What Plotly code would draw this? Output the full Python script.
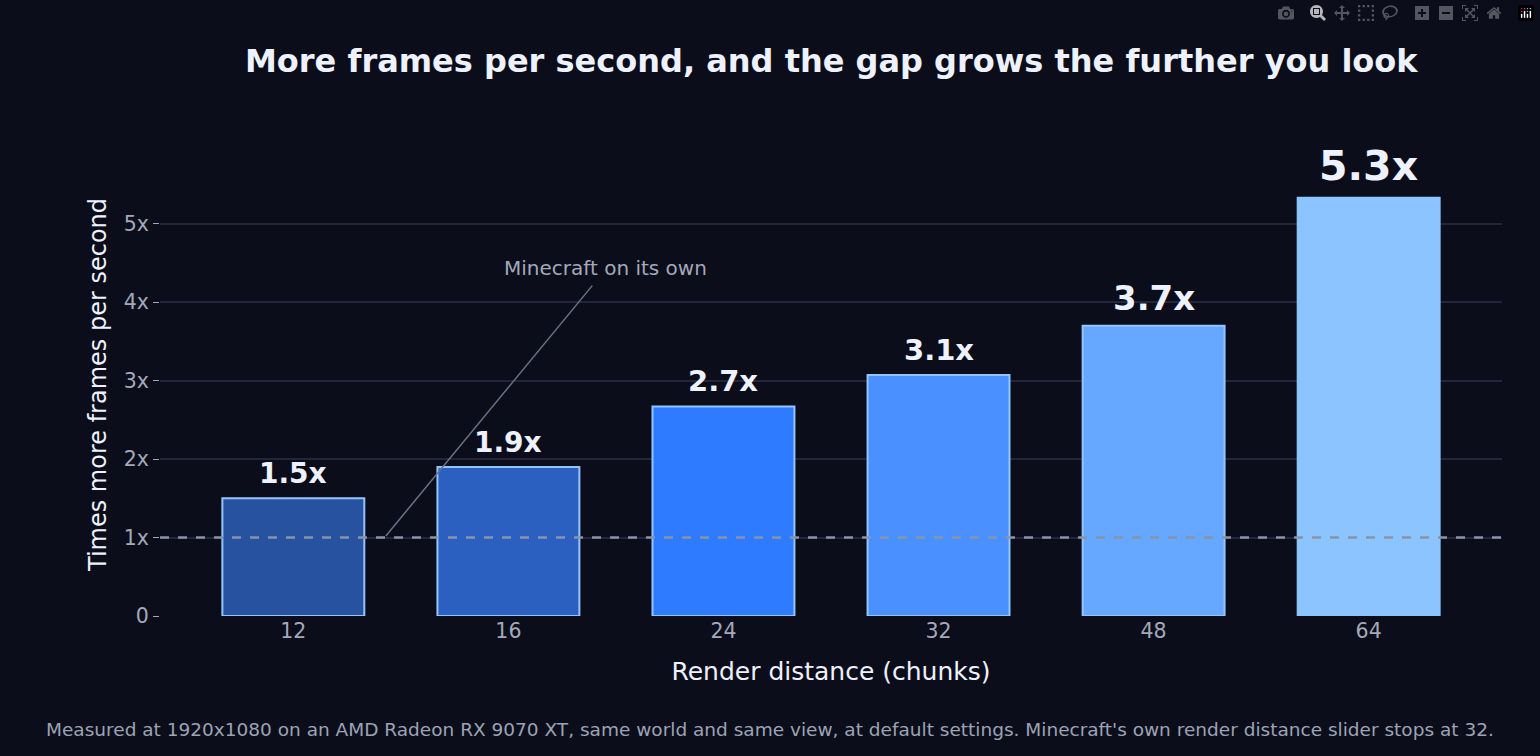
import plotly.graph_objects as go

distances = ['12', '16', '24', '32', '48', '64']
speedup = [1.5, 1.9, 2.67, 3.07, 3.7, 5.33]
labels = ['1.5x', '1.9x', '2.7x', '3.1x', '3.7x', '5.3x']
bar_colors = ['#2752a0', '#2b60c0', '#2e7bff', '#4a90ff', '#66a8ff', '#8cc4ff']
outline_colors = ['#93c5fd'] * 5 + ['#8cc4ff']
label_sizes = [28, 28, 29, 29, 34, 41]
y_ticks = [0, 1, 2, 3, 4, 5]
y_ticktext = ['0', '1x', '2x', '3x', '4x', '5x']

BG = '#0b0e1a'
FONT = 'DejaVu Sans'
xs = list(range(len(distances)))

fig = go.Figure()
fig.add_trace(go.Bar(
    x=xs, y=speedup, width=0.66,
    marker=dict(color=bar_colors, line=dict(color=outline_colors, width=2)),
    hoverinfo='skip', showlegend=False,
))

# baseline: plain Minecraft
fig.add_shape(type='line', xref='paper', x0=0, x1=1, y0=1, y1=1,
              line=dict(color='#8a93a8', width=2.5, dash='dash'))

# value labels above bars
for x, v, t, s in zip(xs, speedup, labels, label_sizes):
    fig.add_annotation(x=x, y=v, text=f'<b>{t}</b>', showarrow=False,
                       yanchor='bottom', yshift=6,
                       font=dict(size=s, color='#eef2ff', family=FONT))

# callout for the baseline
fig.add_shape(type='line', x0=0.43, y0=1.02, x1=1.39, y1=4.21,
              line=dict(color='#6b7285', width=1.5))
fig.add_annotation(x=1.45, y=4.43, text='Minecraft on its own', showarrow=False,
                   font=dict(size=20, color='#a3a9ba', family=FONT))

fig.add_annotation(xref='paper', yref='paper', x=0.5, y=1, yshift=92,
                   text='<b>More frames per second, and the gap grows the further you look</b>',
                   showarrow=False, yanchor='middle',
                   font=dict(size=32, color='#eef2ff', family=FONT))
fig.add_annotation(xref='paper', yref='paper', x=(770 - 160) / 1342, y=0, yshift=-113,
                   text="Measured at 1920x1080 on an AMD Radeon RX 9070 XT, same world and same view, at default settings. Minecraft's own render distance slider stops at 32.",
                   showarrow=False, yanchor='middle',
                   font=dict(size=18.5, color='#9ca3b5', family=FONT))

fig.update_layout(
    width=1540, height=756,
    paper_bgcolor=BG, plot_bgcolor=BG,
    margin=dict(l=160, r=38, t=153, b=140),
    font=dict(family=FONT, color='#a3a9ba'),
    xaxis=dict(tickvals=xs, ticktext=distances, range=[-0.62, 5.62],
               showgrid=False, zeroline=False, showline=False,
               ticks='', tickfont=dict(size=20.5, color='#a3a9ba'),
               title=dict(text='Render distance (chunks)', standoff=20,
                          font=dict(size=25, color='#eef2ff'))),
    yaxis=dict(tickvals=y_ticks, ticktext=y_ticktext, range=[0, 5.9],
               gridcolor='#22263a', gridwidth=1.5, zeroline=False,
               ticks='outside', ticklen=6, tickcolor='#a3a9ba',
               tickfont=dict(size=20.5, color='#a3a9ba'),
               title=dict(text='Times more frames per second', standoff=10,
                          font=dict(size=24, color='#eef2ff'))),
)

fig.write_html('out.html',
               post_script="document.body.style.margin='0';document.body.style.overflow='hidden';")
